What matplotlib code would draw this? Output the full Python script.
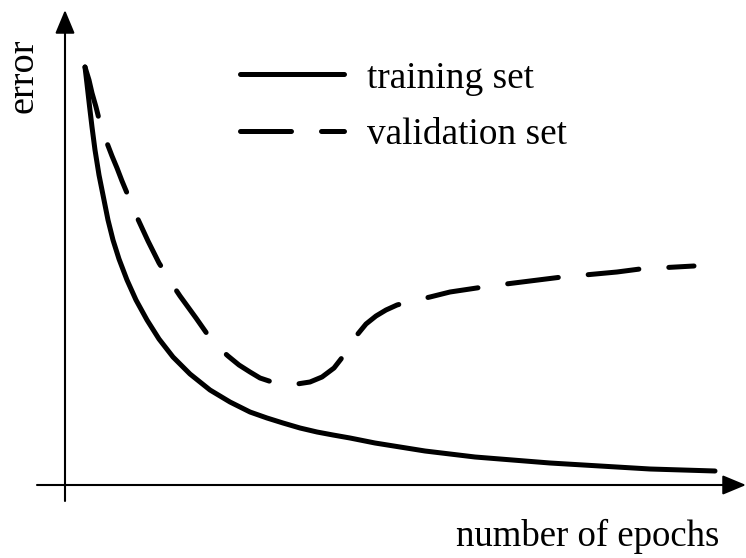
import matplotlib
matplotlib.use("Agg")
import matplotlib.pyplot as plt

plt.rcParams['font.family'] = ['Liberation Serif', 'DejaVu Serif']

# Data (epochs, error)
train_epochs = [2.0, 2.2, 2.45, 2.7, 3.0, 3.4, 3.9, 4.3, 4.8, 5.4, 6.2, 7.1, 8.2, 9.4, 10.8,
                12.5, 14.5, 16.5, 18.5, 20.2, 21.8, 23.5, 25.2, 26.8, 28.5, 31.0, 33.5, 36.0,
                38.5, 41.0, 43.5, 48.5, 53.5, 58.5, 65.0]
train_error = [41.8, 40.1, 37.9, 35.8, 33.5, 31.0, 28.5, 26.5, 24.5, 22.6, 20.5, 18.5, 16.5,
               14.6, 12.8, 11.1, 9.5, 8.3, 7.3, 6.7, 6.2, 5.7, 5.3, 5.0, 4.7, 4.2, 3.8, 3.4,
               3.1, 2.8, 2.6, 2.2, 1.9, 1.6, 1.4]

val_epochs = [2.0, 2.4, 2.7, 3.1, 3.4, 3.8, 4.2, 4.7, 5.2, 5.7, 6.2, 6.7, 7.1, 7.7, 8.3, 8.9,
              9.4, 10.1, 10.7, 11.5, 12.3, 13.1, 13.8, 14.5, 15.3, 16.3, 17.4, 18.5, 19.5,
              20.7, 22.0, 23.2, 24.5, 25.7, 26.9, 27.6, 28.3, 29.2, 30.1, 31.1, 32.1, 33.2,
              34.3, 36.5, 38.5, 40.5, 42.5, 44.9, 47.3, 49.7, 52.5, 55.2, 57.5, 60.2, 62.9]
val_error = [41.8, 40.5, 39.2, 37.8, 36.6, 35.4, 34.2, 32.9, 31.7, 30.4, 29.2, 28.0, 27.0,
             25.7, 24.4, 23.2, 22.2, 21.1, 20.1, 18.9, 17.8, 16.7, 15.7, 14.7, 13.8, 12.9,
             12.0, 11.3, 10.7, 10.3, 10.1, 10.1, 10.3, 10.8, 11.7, 12.6, 13.7, 15.0, 16.1,
             16.9, 17.5, 18.0, 18.3, 18.8, 19.3, 19.6, 19.9, 20.2, 20.5, 20.8, 21.05, 21.3,
             21.6, 21.75, 21.9]

labels = ["training set", "validation set"]
xlabel = "number of epochs"
ylabel = "error"

fig = plt.figure(figsize=(7.46, 5.58), dpi=100)
ax = fig.add_axes([0, 0, 1, 1])
ax.set_xlim(-6.5, 68.1)
ax.set_ylim(-7.3, 48.5)
ax.axis('off')

lw = 3.6
ax.plot(train_epochs, train_error, color='black', lw=lw, solid_capstyle='round',
        solid_joinstyle='round', label=labels[0])
ax.plot(val_epochs, val_error, color='black', lw=lw, dashes=(10.2, 6.0),
        dash_capstyle='round', dash_joinstyle='round', label=labels[1])

# axes with arrows
arrow = dict(arrowstyle='-|>,head_length=0.48,head_width=0.2', mutation_scale=30,
             color='black', lw=1.5, shrinkA=0, shrinkB=0)
ax.annotate('', xy=(68.1, 0), xytext=(-2.8, 0), arrowprops=arrow)
ax.annotate('', xy=(0, 47.5), xytext=(0, -1.6), arrowprops=arrow)

fig.text(23 / 746, 1 - 76 / 558, ylabel, rotation=90, ha='center', va='center', fontsize=27.5)
fig.text(719 / 746, 1 - 546 / 558, xlabel, ha='right', va='baseline', fontsize=26.5)

leg = ax.legend(loc='upper left', bbox_to_anchor=(240 / 746, 1 - 61 / 558), frameon=False,
                fontsize=26.8, handlelength=2.8, handletextpad=0.6, borderpad=0,
                borderaxespad=0, labelspacing=0.58)

fig.savefig('out.png', dpi=100)
